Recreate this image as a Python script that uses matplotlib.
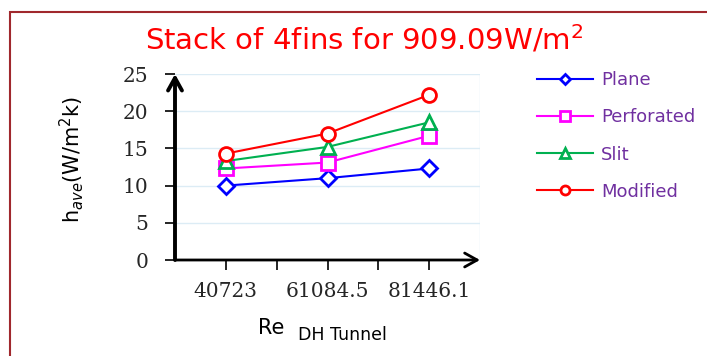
import matplotlib
matplotlib.use("Agg")
import matplotlib.pyplot as plt
from matplotlib.patches import Rectangle

# data
Categorias = ['40723', '61084.5', '81446.1']
Plane = [10.0, 11.0, 12.3]
Perforated = [12.3, 13.1, 16.7]
Slit = [13.3, 15.2, 18.5]
Modified = [14.3, 17.0, 22.2]
Series = [('Plane', Plane, '#0000ff', 'D'),
          ('Perforated', Perforated, '#ff00ff', 's'),
          ('Slit', Slit, '#00b050', '^'),
          ('Modified', Modified, '#ff0000', 'o')]

Fig = plt.figure(figsize=(7.07, 3.56), dpi=100)
Fig.patch.set_facecolor('white')
Fig.patches.append(Rectangle((10/707, -0.1), 1.2, 1 - 12/356 + 0.1, transform=Fig.transFigure,
                             fill=False, edgecolor='#a0282d', linewidth=1.5))

Ax = Fig.add_axes([175/707, 1 - 260/356, 305/707, 186/356])
Pos = [1, 3, 5]
Handles = []
for Nombre, Vals, Col, Mk in Series:
    H, = Ax.plot(Pos, Vals, color=Col, marker=Mk, markersize=10 if Mk != 'D' else 8,
                 markerfacecolor='white', markeredgewidth=2, linewidth=1.5, label=Nombre)
    Handles.append(H)

Ax.set_xlim(0, 6)
Ax.set_ylim(0, 25)
Ax.set_yticks([0, 5, 10, 15, 20, 25])
Ax.set_xticks([1, 2, 3, 4, 5])
Ax.set_xticklabels([Categorias[0], '', Categorias[1], '', Categorias[2]])
Ax.set_xticks([1, 2, 3, 4, 5, 6], minor=True)
Ax.grid(True, which='minor', axis='x', color='#dcecf5', linewidth=1)
Ax.grid(True, which='major', axis='y', color='#dcecf5', linewidth=1)
Ax.set_axisbelow(True)
for S in Ax.spines.values():
    S.set_visible(False)
Ax.tick_params(axis='both', direction='out', length=7, width=1.2, color='black',
               labelsize=14.5, pad=9)
Ax.tick_params(axis='y', pad=12)
Ax.tick_params(axis='x', which='minor', length=0)
for L in Ax.get_xticklabels() + Ax.get_yticklabels():
    L.set_fontfamily('DejaVu Serif')
    L.set_color('#262626')

Ax.annotate('', xy=(0, 1.0), xytext=(0, 0), xycoords='axes fraction',
            arrowprops=dict(arrowstyle='->,head_length=0.9,head_width=0.5', lw=2.8, color='black',
                            shrinkA=0, shrinkB=0), annotation_clip=False)
Ax.annotate('', xy=(1.0, 0), xytext=(0, 0), xycoords='axes fraction',
            arrowprops=dict(arrowstyle='->,head_length=0.9,head_width=0.5', lw=2.0, color='black',
                            shrinkA=0, shrinkB=0), annotation_clip=False)

Fig.text(364/707, 1 - 40/356, 'Stack of 4fins for 909.09W/m$^2$', color='#ff0000',
         fontsize=21, fontfamily='DejaVu Sans', ha='center', va='center')
Fig.text(72/707, 1 - 159/356, 'h$_{ave}$(W/m$^2$k)', rotation=90, fontsize=15,
         fontfamily='DejaVu Sans', ha='center', va='center')
Fig.text(284/707, 1 - 328/356, 'Re', fontsize=15, fontfamily='DejaVu Sans', ha='right', va='center')
Fig.text(298/707, 1 - 335/356, 'DH Tunnel', fontsize=12.5, fontfamily='DejaVu Sans', ha='left', va='center')

Leg = Fig.legend(handles=Handles, loc='upper left', bbox_to_anchor=(521/707, 1 - 55/356),
                 frameon=False, labelspacing=1.06, handlelength=3.1,
                 handletextpad=0.45, markerscale=0.65, labelcolor='#7030a0',
                 prop={'family': 'DejaVu Sans', 'size': 13})

Fig.savefig('out.png', dpi=100)
